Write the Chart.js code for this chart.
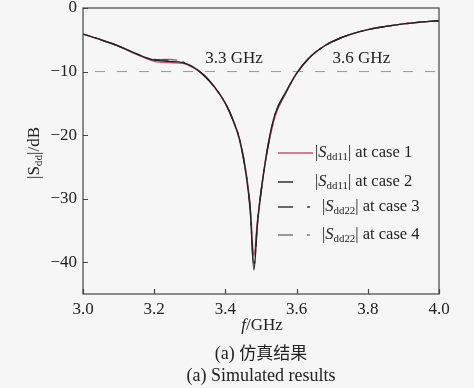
<!DOCTYPE html>
<html><head><meta charset="utf-8">
<script src="https://cdn.jsdelivr.net/npm/chart.js@4.4.1/dist/chart.umd.min.js"></script>
<style>
html,body{margin:0;padding:0;background:#f6f6f6;}
#wrap{position:relative;width:474px;height:388px;}
canvas{position:absolute;left:0;top:0;}
.cap{position:absolute;left:0;width:474px;text-align:center;color:#222;font-size:18px;line-height:20px;}
#c1{top:342px;left:24px;font-family:"Liberation Serif","Noto Sans CJK SC",serif;}
#c2{top:365px;left:24px;font-family:"Liberation Serif",serif;}
</style></head>
<body><div id="wrap"><canvas id="ch" width="474" height="388"></canvas>
<div class="cap" id="c1">(a) <span style="font-family:'Noto Sans CJK SC';font-size:17px">仿真结果</span></div>
<div class="cap" id="c2">(a) Simulated results</div></div>
<script>
const freq   = [3.00,3.05,3.10,3.15,3.20,3.24,3.28,3.31,3.34,3.37,3.40,3.42,3.44,3.46,3.47,3.48,3.49,3.50,3.52,3.54,3.57,3.60,3.64,3.68,3.72,3.76,3.80,3.85,3.90,3.95,4.00];
const case1  = [-4.1,-5.0,-6.0,-7.3,-8.4,-8.6,-8.7,-9.4,-10.6,-12.4,-15.0,-17.4,-20.6,-26.5,-31.5,-39.0,-33.5,-28.8,-21.8,-17.0,-13.4,-10.3,-7.6,-5.9,-4.8,-4.0,-3.4,-2.9,-2.5,-2.2,-2.0];
const case2  = [-4.1,-5.0,-6.0,-7.2,-8.2,-8.4,-8.6,-9.3,-10.6,-12.5,-15.0,-17.5,-20.8,-27.0,-32.0,-41.2,-34.0,-29.0,-21.5,-16.6,-13.2,-10.3,-7.6,-5.9,-4.8,-4.0,-3.4,-2.9,-2.5,-2.2,-2.0];
const case3  = [-4.1,-5.0,-6.0,-7.2,-8.1,-8.2,-8.5,-9.3,-10.6,-12.5,-15.0,-17.4,-20.7,-26.8,-31.8,-40.6,-33.8,-29.0,-21.6,-16.7,-13.3,-10.3,-7.6,-5.9,-4.8,-4.0,-3.4,-2.9,-2.5,-2.2,-2.0];
const case4  = [-4.1,-5.0,-6.0,-7.2,-8.1,-8.1,-8.4,-9.3,-10.6,-12.5,-15.0,-17.4,-20.7,-26.8,-31.8,-40.4,-33.8,-29.0,-21.6,-16.7,-13.3,-10.3,-7.6,-5.9,-4.8,-4.0,-3.4,-2.9,-2.5,-2.2,-2.0];
const refFreq = [3.0, 4.0];
const refLevel = [-10, -10];
const xTicks = [3.0,3.2,3.4,3.6,3.8,4.0];
const yTicks = [0,-10,-20,-30,-40];
const notes = [{text:'3.3 GHz', x:3.424, y:-7.9},{text:'3.6 GHz', x:3.782, y:-7.9}];

const SERIF = '"Liberation Serif", serif';
const pts = (xs, ys) => xs.map((x,i)=>({x, y: ys[i]}));
const styles = [
  {c:'#c9507c', d:[], ld:[], off:0, w:1.4, o:5},
  {c:'#222222', d:[], ld:[15,20], off:0, w:1.4, o:2},
  {c:'#3c3c3c', d:[15,14,3,14], ld:[15,14,3,14], off:17, w:1.4, o:3},
  {c:'#7a7a7a', d:[15,14,3,14], ld:[15,14,3,14], off:8, w:1.4, o:4}
];
const series = [case1, case2, case3, case4];
const datasets = series.map((s,i)=>({
  data: pts(freq, s), borderColor: styles[i].c, borderDash: styles[i].d, borderDashOffset: styles[i].off,
  borderWidth: styles[i].w, pointRadius: 0, cubicInterpolationMode: 'monotone', fill:false, order: styles[i].o
}));
datasets.push({data: pts(refFreq, refLevel), borderColor:'#9a9a9a', borderDash:[10,12], borderDashOffset: -12, borderWidth:1, pointRadius:0, order: 6});

const legendItems = [
  {sub:'dd11', n:'1', s:styles[0], tx:232},
  {sub:'dd11', n:'2', s:styles[1], tx:232},
  {sub:'dd22', n:'3', s:styles[2], tx:239},
  {sub:'dd22', n:'4', s:styles[3], tx:239}
];
const legendRows = [145, 174, 199, 227];

function rich(ctx, parts, x, y, size){
  let cx = x;
  for (const p of parts){
    const fs = p.sub ? size*0.66 : size;
    ctx.font = (p.it?'italic ':'') + fs + 'px ' + SERIF;
    ctx.fillText(p.t, cx, y + (p.sub ? size*0.24 : 0));
    cx += ctx.measureText(p.t).width;
  }
  return cx - x;
}
function richWidth(ctx, parts, size){
  let w=0;
  for (const p of parts){ const fs = p.sub?size*0.66:size; ctx.font=(p.it?'italic ':'')+fs+'px '+SERIF; w+=ctx.measureText(p.t).width; }
  return w;
}

const deco = {
  id:'deco',
  afterDraw(chart){
    const {ctx, chartArea:a, scales:{x,y}} = chart;
    ctx.save();
    ctx.strokeStyle='#444'; ctx.lineWidth=1.2; ctx.setLineDash([]);
    ctx.strokeRect(a.left, a.top, a.right-a.left, a.bottom-a.top);
    ctx.beginPath();
    for (const v of yTicks){ const py=Math.round(y.getPixelForValue(v))+0.5; ctx.moveTo(a.left,py); ctx.lineTo(a.left+5,py); }
    for (const v of xTicks){ const px=Math.round(x.getPixelForValue(v))+0.5; ctx.moveTo(px,a.bottom); ctx.lineTo(px,a.bottom-5); }
    ctx.stroke();
    ctx.fillStyle='#222'; ctx.textBaseline='middle';
    ctx.font='17px '+SERIF; ctx.textAlign='center';
    for (const n of notes) ctx.fillText(n.text, x.getPixelForValue(n.x), y.getPixelForValue(n.y));
    ctx.textAlign='left';
    const lx = a.left + 195;
    legendItems.forEach((it,i)=>{
      const py = a.top + legendRows[i];
      ctx.strokeStyle = it.s.c; ctx.lineWidth = it.s.w; ctx.setLineDash(it.s.ld); ctx.lineDashOffset = 0;
      ctx.beginPath(); ctx.moveTo(lx, py); ctx.lineTo(lx+35, py); ctx.stroke();
      ctx.setLineDash([]);
      rich(ctx, [{t:'|'},{t:'S',it:1},{t:it.sub,sub:1},{t:'| at case '+it.n}], a.left + it.tx, py, 16.5);
    });
    const xt=[{t:'f',it:1},{t:'/GHz'}];
    const cx=(a.left+a.right)/2, w=richWidth(ctx,xt,17);
    rich(ctx, xt, cx-w/2+1, a.bottom+32, 17);
    const yt=[{t:'|S'},{t:'dd',sub:1},{t:'|/dB'}];
    ctx.translate(35, 153); ctx.rotate(-Math.PI/2);
    const wy=richWidth(ctx,yt,17);
    rich(ctx, yt, -wy/2, 0, 17);
    ctx.restore();
  }
};

new Chart(document.getElementById('ch'), {
  type:'line',
  data:{datasets},
  plugins:[deco],
  options:{
    responsive:false, animation:false,
    layout:{padding:{top:8,right:35,left:0,bottom:0}},
    plugins:{legend:{display:false}, tooltip:{enabled:false}},
    scales:{
      x:{type:'linear', min:3, max:4,
        grid:{display:false, drawTicks:false}, border:{display:false},
        afterBuildTicks:s=>{s.ticks=xTicks.map(v=>({value:v}));},
        afterFit:s=>{s.height=94; s.paddingLeft=0; s.paddingRight=0;},
        ticks:{font:{family:SERIF,size:17}, color:'#222', padding:5, maxRotation:0, callback:v=>Number(v).toFixed(1)}},
      y:{type:'linear', min:-45, max:0,
        grid:{display:false, drawTicks:false}, border:{display:false},
        afterBuildTicks:s=>{s.ticks=yTicks.map(v=>({value:v}));},
        afterFit:s=>{s.width=83; s.paddingTop=0; s.paddingBottom=0;},
        ticks:{font:{family:SERIF,size:17}, color:'#222', padding:6, callback:v=>String(v).replace('-','\u2212')}}
    }
  }
});
</script></body></html>
